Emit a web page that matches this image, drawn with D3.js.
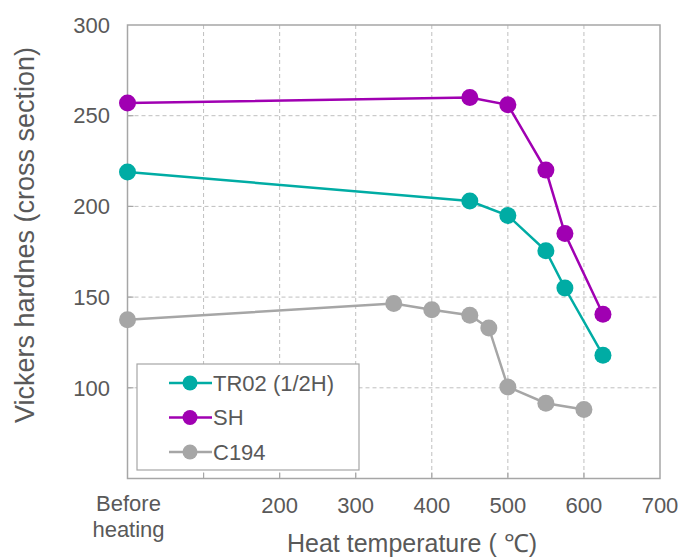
<!DOCTYPE html>
<html lang="en">
  <head>
    <meta charset="UTF-8" />
    <title>Vickers hardness vs heat temperature</title>
    <style>
      body { margin: 0; background: #fff; }
      text { font-family: "Liberation Sans", Arial, sans-serif; fill: #595959; }
    </style>
  </head>
  <body>
    <svg width="691" height="559" xmlns="http://www.w3.org/2000/svg"></svg>
    <script src="https://cdn.jsdelivr.net/npm/d3@7"></script>
    <script>
      // x = 0 stands for "Before heating"
      const tr02Temp = [0, 450, 500, 550, 575, 625];
      const tr02Hv = [219, 203, 195, 175.5, 155, 118];
      const shTemp = [0, 450, 500, 550, 575, 625];
      const shHv = [257, 260, 256, 220, 185, 140.5];
      const c194Temp = [0, 350, 400, 450, 475, 500, 550, 600];
      const c194Hv = [137.5, 146.5, 143, 140, 133, 100.5, 91.5, 88];

      const seriesNames = ["TR02 (1/2H)", "SH", "C194"];
      const seriesColors = ["#00aca4", "#a000b2", "#a6a6a6"];
      const xTicks = [0, 200, 300, 400, 500, 600, 700];
      const xGrid = [100, 200, 300, 400, 500, 600];
      const yTicks = [100, 150, 200, 250, 300];
      const yGrid = [100, 150, 200, 250];

      const series = [
        { name: seriesNames[0], color: seriesColors[0], pts: tr02Temp.map((t, i) => [t, tr02Hv[i]]) },
        { name: seriesNames[1], color: seriesColors[1], pts: shTemp.map((t, i) => [t, shHv[i]]) },
        { name: seriesNames[2], color: seriesColors[2], pts: c194Temp.map((t, i) => [t, c194Hv[i]]) }
      ];

      const svg = d3.select("svg");
      const plotL = 127.5, plotR = 660, plotT = 25, plotB = 478.5;

      const x = d3.scaleLinear().domain([0, 700]).range([plotL, plotR]);
      const y = d3.scaleLinear().domain([50, 300]).range([plotB, plotT]);

      // gridlines
      const grid = svg.append("g").attr("stroke", "#bfbfbf").attr("stroke-width", 1).attr("stroke-dasharray", "4,3");
      grid.selectAll(".vg").data(xGrid).enter().append("line")
        .attr("x1", d => x(d)).attr("x2", d => x(d)).attr("y1", plotT).attr("y2", plotB);
      grid.selectAll(".hg").data(yGrid).enter().append("line")
        .attr("x1", plotL).attr("x2", plotR).attr("y1", d => y(d)).attr("y2", d => y(d));

      // inward ticks
      const ticks = svg.append("g").attr("stroke", "#a6a6a6").attr("stroke-width", 1.2);
      ticks.selectAll(".xt").data(xGrid).enter().append("line")
        .attr("x1", d => x(d)).attr("x2", d => x(d)).attr("y1", plotB).attr("y2", plotB - 6);
      ticks.selectAll(".yt").data(yGrid).enter().append("line")
        .attr("x1", plotL).attr("x2", plotL + 6).attr("y1", d => y(d)).attr("y2", d => y(d));

      // frame
      svg.append("rect")
        .attr("x", plotL).attr("y", plotT)
        .attr("width", plotR - plotL).attr("height", plotB - plotT)
        .attr("fill", "none").attr("stroke", "#a6a6a6").attr("stroke-width", 1.5);

      // y tick labels
      svg.append("g").selectAll("text").data(yTicks).enter().append("text")
        .attr("x", 110).attr("y", d => y(d)).attr("dy", "0.35em")
        .attr("text-anchor", "end").attr("font-size", 22)
        .text(d => d);

      // x tick labels
      const xl = svg.append("g");
      xl.selectAll("text").data(xTicks.filter(d => d > 0)).enter().append("text")
        .attr("x", d => x(d)).attr("y", 513)
        .attr("text-anchor", "middle").attr("font-size", 22)
        .text(d => d);
      const before = xl.append("text").attr("x", x(0)).attr("text-anchor", "middle").attr("font-size", 22);
      before.append("tspan").attr("x", x(0) + 1).attr("y", 511).text("Before");
      before.append("tspan").attr("x", x(0) + 1).attr("y", 537).text("heating");

      // axis titles
      svg.append("text")
        .attr("x", 412).attr("y", 552)
        .attr("text-anchor", "middle").attr("font-size", 25)
        .text("Heat temperature ( \u2103)");
      svg.append("text")
        .attr("transform", "translate(34,235) rotate(-90)")
        .attr("text-anchor", "middle").attr("font-size", 27)
        .text("Vickers hardnes (cross section)");

      // lines and markers
      const line = d3.line().x(d => x(d[0])).y(d => y(d[1]));
      series.forEach(s => {
        svg.append("path").datum(s.pts)
          .attr("d", line).attr("fill", "none")
          .attr("stroke", s.color).attr("stroke-width", 2.5);
        svg.append("g").selectAll("circle").data(s.pts).enter().append("circle")
          .attr("cx", d => x(d[0])).attr("cy", d => y(d[1])).attr("r", 8.5)
          .attr("fill", s.color);
      });

      // legend
      const lg = svg.append("g");
      lg.append("rect").attr("x", 137).attr("y", 364).attr("width", 222).attr("height", 106)
        .attr("fill", "#fff").attr("stroke", "#a6a6a6").attr("stroke-width", 1.2);
      series.forEach((s, i) => {
        const yy = 383 + i * 34.5;
        lg.append("line").attr("x1", 169).attr("x2", 212).attr("y1", yy).attr("y2", yy)
          .attr("stroke", s.color).attr("stroke-width", 2.5);
        lg.append("circle").attr("cx", 190).attr("cy", yy).attr("r", 7.5).attr("fill", s.color);
        lg.append("text").attr("x", 213).attr("y", yy).attr("dy", "0.36em")
          .attr("font-size", 22).text(s.name);
      });
    </script>
  </body>
</html>
